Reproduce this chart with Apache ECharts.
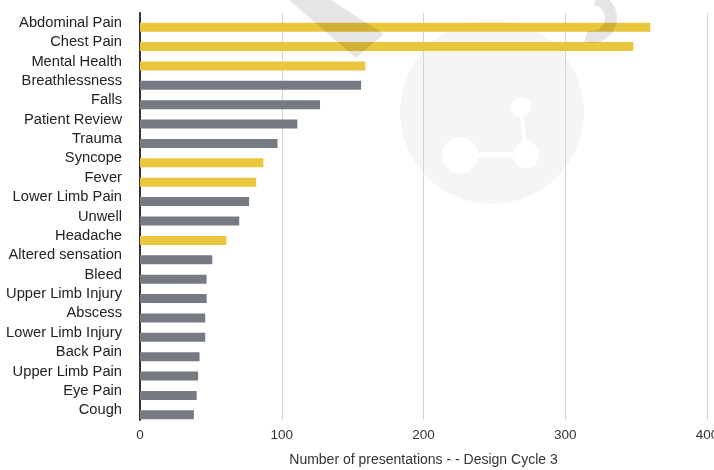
<!DOCTYPE html>
<html>
<head>
<meta charset="utf-8">
<script src="https://cdn.jsdelivr.net/npm/echarts@6/dist/echarts.min.js"></script>
<style>html,body{margin:0;padding:0;background:#fff;overflow:hidden;}#c{width:714px;height:470px;}</style>
</head>
<body>
<div id="c"></div>
<script>
var categories = ["Abdominal Pain","Chest Pain","Mental Health","Breathlessness","Falls","Patient Review","Trauma","Syncope","Fever","Lower Limb Pain","Unwell","Headache","Altered sensation","Bleed","Upper Limb Injury","Abscess","Lower Limb Injury","Back Pain","Upper Limb Pain","Eye Pain","Cough"];
var values = [360,348,159,156,127,111,97,87,82,77,70,61,51,47,47,46,46,42,41,40,38];
var highlighted = [true,true,true,false,false,false,false,true,true,false,false,true,false,false,false,false,false,false,false,false,false];
var xTicks = [0,100,200,300,400];
var axisTitle = "Number of presentations - - Design Cycle 3";

var YELLOW = "#E9C63B", GREY = "#767A82";
var FONT = "'Liberation Sans', Arial, Helvetica, sans-serif";

var chart = echarts.init(document.getElementById('c'), null, {renderer:'canvas', width:714, height:470});
var barData = values.map(function(v,i){
  return {value:v, itemStyle:{color: highlighted[i] ? YELLOW : GREY}};
});
var dummy = values.map(function(){ return '-'; });

chart.setOption({
  animation:false,
  backgroundColor:'#fff',
  grid:{left:140, right:7, top:13, bottom:50, containLabel:false, outerBoundsMode:'none'},
  xAxis:{
    type:'value', min:xTicks[0], max:xTicks[xTicks.length-1], interval:100,
    axisLine:{show:false}, axisTick:{show:false},
    splitLine:{show:true, lineStyle:{color:'#d4d4d4', width:1}},
    axisLabel:{color:'#333', fontSize:13.5, fontFamily:FONT, margin:8, hideOverlap:false},
    name:axisTitle, nameLocation:'middle', nameGap:33,
    nameTextStyle:{color:'#333', fontSize:14, fontFamily:FONT}
  },
  yAxis:{
    type:'category', data:categories, inverse:true,
    axisLine:{show:true, lineStyle:{color:'#333', width:2}},
    axisTick:{show:false},
    axisLabel:{color:'#222', fontSize:14.7, fontFamily:FONT, margin:18, interval:0}
  },
  series:[
    {type:'bar', data:dummy, barWidth:9, barGap:'0%', silent:true},
    {type:'bar', data:barData, barWidth:9, barGap:'0%'}
  ],
  graphic:[
    {type:'circle', shape:{cx:492, cy:112, r:92}, style:{fill:'rgba(0,0,0,0.04)'}, z:-10, silent:true},
    {type:'circle', shape:{cx:460, cy:155, r:18}, style:{fill:'#fff'}, z:-9, silent:true},
    {type:'circle', shape:{cx:526, cy:155, r:13}, style:{fill:'#fff'}, z:-9, silent:true},
    {type:'circle', shape:{cx:521, cy:107, r:10}, style:{fill:'#fff'}, z:-9, silent:true},
    {type:'line', shape:{x1:460, y1:155, x2:526, y2:155}, style:{stroke:'#fff', lineWidth:5}, z:-9, silent:true},
    {type:'line', shape:{x1:521, y1:107, x2:526, y2:155}, style:{stroke:'#fff', lineWidth:4}, z:-9, silent:true},
    {type:'polygon', shape:{points:[[289,0],[331,0],[384,34],[356,58]]}, style:{fill:'rgba(0,0,0,0.1)'}, z:100, silent:true},
    {type:'arc', shape:{cx:592, cy:18, r:19, startAngle:-1.4, endAngle:1.9}, style:{stroke:'rgba(0,0,0,0.1)', lineWidth:12, fill:null}, z:100, silent:true}
  ]
});
</script>
</body>
</html>
